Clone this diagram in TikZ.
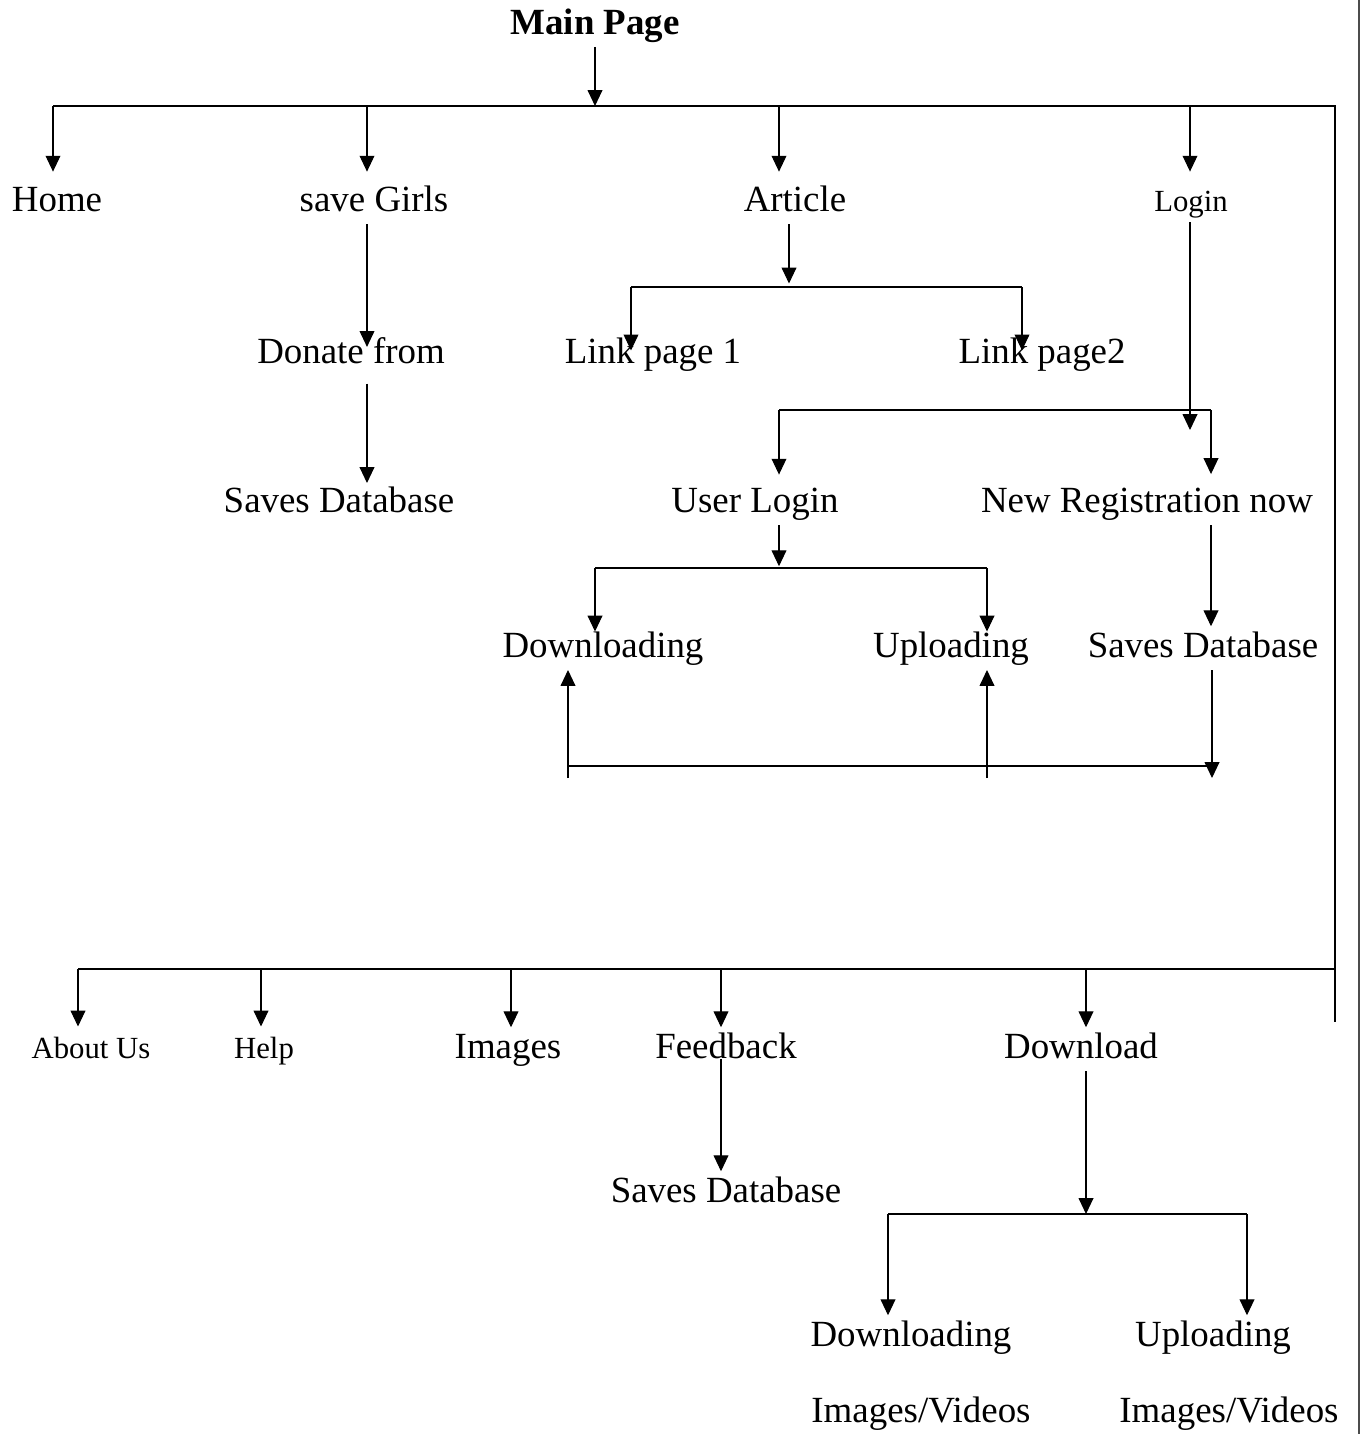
\documentclass[tikz,border=0pt]{standalone}
\usepackage{fontspec}
\setmainfont{Liberation Serif}
\usetikzlibrary{arrows.meta}

\begin{document}
\begin{tikzpicture}[x=0.02cm,y=-0.02cm,line width=0.6pt,
    arr/.style={-{Triangle[length=9pt,width=8.4pt]}},
    lbl/.style={font=\fontsize{21}{25}\selectfont,inner sep=0pt,inner ysep=2pt,text height=14.7pt,text depth=4.6pt},
    sml/.style={lbl,font=\fontsize{17.5}{21}\selectfont,text height=12.25pt,text depth=3.85pt}]
\useasboundingbox (0,0) rectangle (1362,1434);

% labels
\node[lbl,font=\fontsize{21}{25}\selectfont\bfseries] (main) at (595,26) {Main Page};
\node[lbl] (home) at (57,203) {Home};
\node[lbl] (girls) at (374,203) {save Girls};
\node[lbl] (article) at (795,203) {Article};
\node[sml] (login) at (1191,204) {Login};
\node[lbl] (donate) at (351,355) {Donate from};
\node[lbl] (link1) at (653,355) {Link page 1};
\node[lbl] (link2) at (1042,355) {Link page2};
\node[lbl] (savesA) at (339,504) {Saves Database};
\node[lbl] (user) at (755,504) {User Login};
\node[lbl] (newreg) at (1147,504) {New Registration now};
\node[lbl] (down1) at (603,649) {Downloading};
\node[lbl] (up1) at (951,649) {Uploading};
\node[lbl] (savesB) at (1203,649) {Saves Database};
\node[sml] (about) at (91,1051) {About Us};
\node[sml] (help) at (264,1051) {Help};
\node[lbl] (images) at (508,1050) {Images};
\node[lbl] (feedback) at (726,1050) {Feedback};
\node[lbl] (download) at (1081,1050) {Download};
\node[lbl] (savesC) at (726,1194) {Saves Database};
\node[lbl] (down2) at (911,1338) {Downloading};
\node[lbl] (up2) at (1213,1338) {Uploading};
\node[lbl] (iv1) at (921,1414) {Images/Videos};
\node[lbl] (iv2) at (1229,1414) {Images/Videos};

% top bar
\coordinate (barL) at (53,106);
\coordinate (barR) at (1335,106);
\coordinate (railEnd) at (1335,1022);
\coordinate (jMain) at (595,106);
\coordinate (tGirls) at (367,106);
\coordinate (tArticle) at (779,106);
\coordinate (tLogin) at (1190,106);
\draw[arr] (main) -- (jMain);
\draw (barL) -- (barR) -- (railEnd);
\draw[arr,shorten >=5.9pt] (barL) -- (barL |- home.north);
\draw[arr,shorten >=5.9pt] (tGirls) -- (tGirls |- girls.north);
\draw[arr,shorten >=5.9pt] (tArticle) -- (tArticle |- article.north);
\draw[arr,shorten >=8.1pt] (tLogin) -- (tLogin |- login.north);

% save Girls
\draw[arr,shorten >=4.6pt] (tGirls |- girls.south) -- (tGirls |- donate);
\draw[arr,shorten <=4.4pt] (tGirls |- donate.south) -- (tGirls |- savesA.north);

% Article
\coordinate (jArt) at (789,287);
\coordinate (bA1) at (631,287);
\coordinate (bA2) at (1022,287);
\draw[arr,shorten >=2pt] (jArt |- article.south) -- (jArt);
\draw (bA1) -- (bA2);
\draw[arr,shorten >=2.6pt] (bA1) -- (bA1 |- link1);
\draw[arr,shorten >=2.6pt] (bA2) -- (bA2 |- link2);

% Login
\coordinate (lgTip) at (1190,430);
\coordinate (bU1) at (779,410);
\coordinate (bU2) at (1211,410);
\draw[arr] (tLogin |- login.south) -- (lgTip);
\draw (bU1) -- (bU2);
\draw[arr,shorten >=4.8pt] (bU1) -- (bU1 |- user.north);
\draw[arr,shorten >=5.1pt] (bU2) -- (bU2 |- newreg.north);

% User Login
\coordinate (jUser) at (779,568);
\coordinate (bD1) at (595,568);
\coordinate (bD2) at (987,568);
\draw[arr,shorten >=1pt] (jUser |- user.south) -- (jUser);
\draw (bD1) -- (bD2);
\draw[arr,shorten >=-2pt] (bD1) -- (bD1 |- down1.north);
\draw[arr,shorten >=-2pt] (bD2) -- (bD2 |- up1.north);
\draw[arr,shorten >=1pt] (bU2 |- newreg.south) -- (bU2 |- savesB.north);

% back line
\coordinate (sbTip) at (1212,778);
\coordinate (hL) at (568,766);
\coordinate (hR) at (1212,766);
\coordinate (uDown) at (568,778);
\coordinate (uUp) at (987,778);
\draw[arr] (sbTip |- savesB.south) -- (sbTip);
\draw (hL) -- (hR);
\draw[arr] (uDown) -- (uDown |- down1.south);
\draw[arr] (uUp) -- (uUp |- up1.south);

% lower bar
\coordinate (lowL) at (78,969);
\coordinate (lowR) at (1335,969);
\coordinate (tHelp) at (261,969);
\coordinate (tImages) at (511,969);
\coordinate (tFeed) at (721,969);
\coordinate (tDown) at (1086,969);
\draw (lowL) -- (lowR);
\draw[arr,shorten >=3.6pt] (lowL) -- (lowL |- about.north);
\draw[arr,shorten >=3.6pt] (tHelp) -- (tHelp |- help.north);
\draw[arr,shorten >=1pt] (tImages) -- (tImages |- images.north);
\draw[arr,shorten >=1pt] (tFeed) -- (tFeed |- feedback.north);
\draw[arr,shorten >=1pt] (tDown) -- (tDown |- download.north);

% Feedback, Download
\coordinate (jDl) at (1086,1214);
\coordinate (bL1) at (888,1214);
\coordinate (bL2) at (1247,1214);
\draw[arr,shorten >=1pt] (tFeed |- feedback.base) -- (tFeed |- savesC.north);
\draw[arr] (jDl |- download.south) -- (jDl);
\draw (bL1) -- (bL2);
\draw[arr,shorten >=1pt] (bL1) -- (bL1 |- down2.north);
\draw[arr,shorten >=1pt] (bL2) -- (bL2 |- up2.north);

% page edge
\draw[line width=1pt,black!70] (1359,0) -- (1359,1434);
\end{tikzpicture}
\end{document}
